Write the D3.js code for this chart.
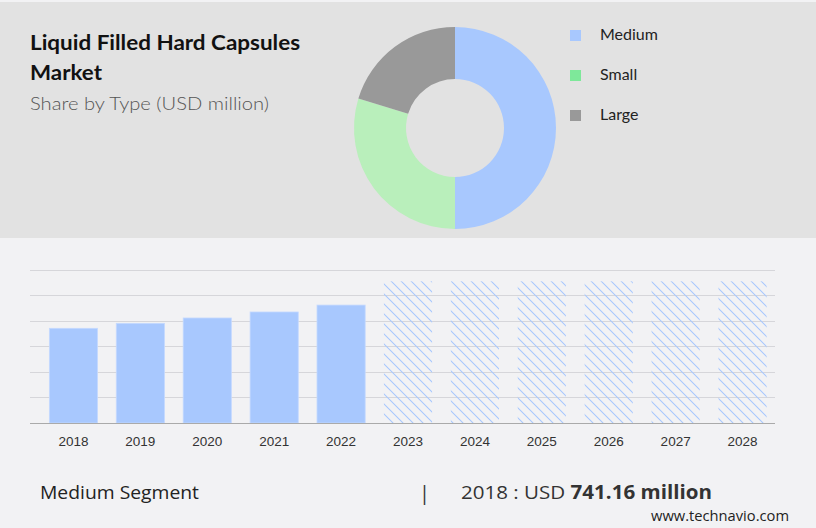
<!DOCTYPE html>
<html><head><meta charset="utf-8">
<script src="https://cdn.jsdelivr.net/npm/d3@7"></script>
<style>body{margin:0;background:#f2f2f4}svg{display:block}</style>
</head><body>
<script>
const shareTypes = ["Medium", "Small", "Large"];
const shareValues = [50.0, 29.7, 20.3];
const legendColors = ["#a8c8fe", "#7ee89a", "#999999"];
const sliceColors = ["#a8c8fe", "#b9efbb", "#999999"];
const years = ["2018","2019","2020","2021","2022","2023","2024","2025","2026","2027","2028"];
const values = [741.16, 780, 822, 869, 923, 1109, 1109, 1109, 1109, 1109, 1109];
const forecast = [false,false,false,false,false,true,true,true,true,true,true];
const yTicks = [0, 200, 400, 600, 800, 1000, 1200];

const W = 816, H = 528;
const svg = d3.select("body").append("svg").attr("width", W).attr("height", H);
const defs = svg.append("defs");
const pat = defs.append("pattern").attr("id","hatch").attr("patternUnits","userSpaceOnUse")
  .attr("width",10).attr("height",10);
pat.append("path").attr("d","M0,0L10,10M-1,9L1,11M9,-1L11,1")
  .attr("stroke","#a8c8fe").attr("stroke-width",1.1).attr("fill","none");

svg.append("rect").attr("width",W).attr("height",H).attr("fill","#f2f2f4");
svg.append("rect").attr("x",0).attr("y",2).attr("width",W).attr("height",236).attr("fill","#e2e2e2");

// titles
svg.append("text").attr("x",30).attr("y",50).text("Liquid Filled Hard Capsules")
  .attr("font-family","Lato, 'Open Sans', sans-serif").attr("font-weight","bold").attr("font-size",21)
  .attr("fill","#111").attr("textLength",270).attr("lengthAdjust","spacingAndGlyphs");
svg.append("text").attr("x",30).attr("y",80).text("Market")
  .attr("font-family","Lato, 'Open Sans', sans-serif").attr("font-weight","bold").attr("font-size",21)
  .attr("fill","#111").attr("textLength",72).attr("lengthAdjust","spacingAndGlyphs");
svg.append("text").attr("x",30).attr("y",110).text("Share by Type (USD million)")
  .attr("font-family","Lato, sans-serif").attr("font-weight",300).attr("font-size",18.5)
  .attr("fill","#555").attr("textLength",239).attr("lengthAdjust","spacingAndGlyphs");

// donut
const pie = d3.pie().sort(null).value(d=>d)(shareValues);
const arc = d3.arc().innerRadius(49).outerRadius(101);
const g = svg.append("g").attr("transform","translate(455,128)");
g.selectAll("path").data(pie).join("path").attr("d",arc).attr("fill",(d,i)=>sliceColors[i]);

// legend
const lg = svg.append("g");
shareTypes.forEach((t,i)=>{
  lg.append("rect").attr("x",570).attr("y",30+i*40).attr("width",11).attr("height",11).attr("fill",legendColors[i]);
  lg.append("text").attr("x",600).attr("y",40+i*40).text(t)
    .attr("font-family","Lato, sans-serif").attr("font-size",16).attr("fill","#222");
});

// bar chart
const x = d3.scaleBand().domain(years).range([40,776]).paddingInner(0.28).paddingOuter(0.14);
const y = d3.scaleLinear().domain([0,1200]).range([423,269.7]);
svg.append("g").selectAll("line").data(yTicks.slice(1)).join("line")
  .attr("x1",30).attr("x2",775).attr("y1",d=>Math.round(y(d))+0.5).attr("y2",d=>Math.round(y(d))+0.5)
  .attr("stroke","#d6d6da").attr("stroke-width",1);
svg.append("g").selectAll("rect").data(years).join("rect")
  .attr("x",d=>x(d)).attr("width",x.bandwidth())
  .attr("y",(d,i)=>y(values[i])).attr("height",(d,i)=>y(0)-y(values[i]))
  .attr("fill",(d,i)=>forecast[i]?"url(#hatch)":"#a8c8fe")
  .attr("stroke",(d,i)=>forecast[i]?"none":"#c4d9ff").attr("stroke-width",0.8);
svg.append("line").attr("x1",30).attr("x2",775).attr("y1",423.5).attr("y2",423.5).attr("stroke","#aaa");
const xa = svg.append("g").attr("transform","translate(0,423)")
  .call(d3.axisBottom(x).tickSize(0).tickPadding(13));
xa.select(".domain").remove();
xa.selectAll("text").attr("font-family","'Liberation Sans', Arial, sans-serif").attr("font-size",13.5).attr("fill","#333");

// footer
svg.append("text").attr("x",40).attr("y",499).text("Medium Segment")
  .attr("font-family","'Open Sans', sans-serif").attr("font-size",18).attr("fill","#222")
  .attr("textLength",159).attr("lengthAdjust","spacingAndGlyphs");
svg.append("text").attr("x",419).attr("y",500).text("|")
  .attr("font-family","'Open Sans', sans-serif").attr("font-size",20).attr("fill","#333");
const ft = svg.append("text").attr("x",461).attr("y",499)
  .attr("font-family","'Open Sans', sans-serif").attr("font-size",19).attr("fill","#333")
  .attr("textLength",251).attr("lengthAdjust","spacingAndGlyphs");
ft.append("tspan").text("2018 : USD ");
ft.append("tspan").text("741.16 million").attr("font-weight","bold").attr("fill","#333");
svg.append("text").attr("x",789).attr("y",521).attr("text-anchor","end").text("www.technavio.com")
  .attr("font-family","'Open Sans', sans-serif").attr("font-size",14).attr("fill","#222")
  .attr("textLength",138).attr("lengthAdjust","spacingAndGlyphs");
</script>
</body></html>
